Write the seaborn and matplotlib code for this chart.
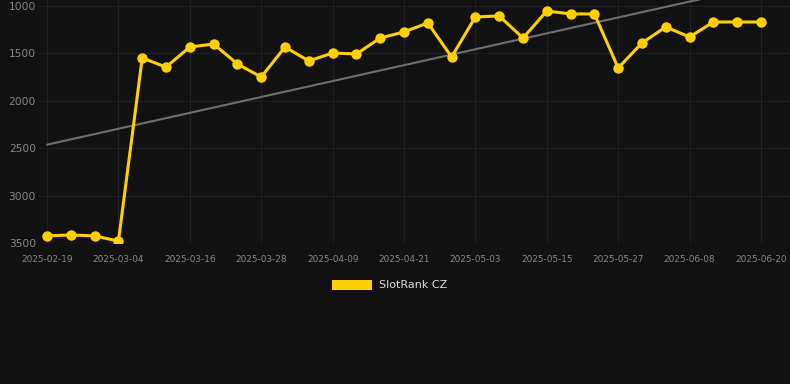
import numpy as np
import pandas as pd
import matplotlib
matplotlib.use("Agg")
import matplotlib.pyplot as plt
from matplotlib.patches import Rectangle
import seaborn as sns

rank_values = [3425, 3415, 3425, 3480, 1549, 1644, 1433, 1401, 1612, 1749,
               1433, 1580, 1496, 1506, 1338, 1274, 1179, 1538, 1116, 1105,
               1338, 1053, 1084, 1084, 1654, 1390, 1221, 1327, 1169, 1169, 1169]
tick_labels = ["2025-02-19", "2025-03-04", "2025-03-16", "2025-03-28", "2025-04-09",
               "2025-04-21", "2025-05-03", "2025-05-15", "2025-05-27", "2025-06-08",
               "2025-06-20"]
tick_every = 3
series_name = "SlotRank CZ"

idx = np.arange(len(rank_values))
df = pd.DataFrame({"pos": idx, "rank": rank_values})

sns.set_theme(style="dark")
plt.rcParams['font.family'] = ['DejaVu Sans']
bg = "#111111"
fig = plt.figure(figsize=(7.9, 3.84), dpi=100, facecolor=bg)
ax = fig.add_axes([38/790, 1 - 243/384, 1 - 38/790, 243/384])
ax.set_facecolor(bg)

# trend line (linear fit)
coef = np.polyfit(idx, df["rank"].values, 1)
trend = np.polyval(coef, idx)
sns.lineplot(x=idx, y=trend, ax=ax, color="#6e6e6e", linewidth=1.5, zorder=2)

gold = "#FFD000"
sns.lineplot(data=df, x="pos", y="rank", ax=ax, color=gold, linewidth=2.2,
             marker="o", markersize=7.5, markeredgewidth=0, zorder=3)

ax.set_ylim(3500, 937)
ax.set_xlim(-0.38, 31.22)
ax.set_yticks([1000, 1500, 2000, 2500, 3000, 3500])
ax.set_xticks(np.arange(0, len(rank_values), tick_every))
ax.set_xticklabels(tick_labels)
ax.tick_params(axis="y", colors="#888888", labelsize=7.7, length=0, pad=1.5)
ax.tick_params(axis="x", colors="#888888", labelsize=6.4, length=0, pad=9)
ax.grid(True, color="#202020", linewidth=0.8)
for s in ax.spines.values():
    s.set_visible(False)
ax.axhline(3500, color="#2a2a2a", linewidth=1, zorder=1)
ax.set_xlabel("")
ax.set_ylabel("")
if ax.get_legend():
    ax.get_legend().remove()

handle = Rectangle((0, 0), 1, 1, facecolor=gold, edgecolor="none")
leg = fig.legend([handle], [series_name], loc="center", bbox_to_anchor=(0.493, 1 - 285/384),
                 frameon=False, handlelength=3.6, handleheight=1.0, fontsize=8,
                 labelcolor="#dddddd", handletextpad=0.6)

fig.savefig("out.png", dpi=100, facecolor=bg)
